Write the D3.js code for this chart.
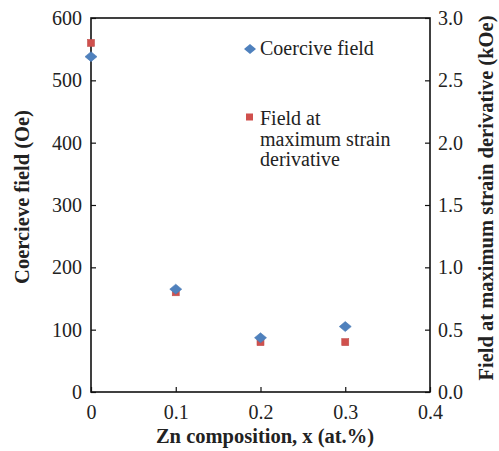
<!DOCTYPE html>
<html><head><meta charset="utf-8">
<script src="https://cdn.jsdelivr.net/npm/d3@7"></script>
<style>body{margin:0;background:#fff;}</style>
</head><body>
<svg id="c" width="499" height="451"></svg>
<script>
const composition = [0, 0.1, 0.2, 0.3];
const coerciveField = [538, 165, 87, 105];           // Oe, left axis
const fieldMaxStrain = [2.8, 0.8, 0.4, 0.4];         // kOe, right axis
const xTicks = [0, 0.1, 0.2, 0.3, 0.4];
const yLeftTicks = [0, 100, 200, 300, 400, 500, 600];
const yRightTicks = [0, 0.5, 1.0, 1.5, 2.0, 2.5, 3.0];

const FONT = "'Liberation Serif', Tinos, 'Times New Roman', serif";
const svg = d3.select("#c").style("font-family", FONT);
const L = 91, R = 430, T = 18, B = 392;
const x = d3.scaleLinear().domain([0, 0.4]).range([L, R]);
const yL = d3.scaleLinear().domain([0, 600]).range([B, T]);
const yR = d3.scaleLinear().domain([0, 3]).range([B, T]);
const fs = 20, fsb = 20.5;

// frame
svg.append("rect").attr("x", L).attr("y", T).attr("width", R - L).attr("height", B - T)
  .attr("fill", "none").attr("stroke", "#111").attr("stroke-width", 1.6);

const ax = g => { g.attr("font-family", null).attr("font-size", null);
  g.select(".domain").remove(); g.selectAll("line").attr("stroke", "#111").attr("stroke-width", 1.2);
  g.selectAll("text").style("font-family", FONT).style("font-size", fs + "px").attr("fill", "#222"); };

svg.append("g").attr("transform", `translate(0,${B})`)
  .call(d3.axisBottom(x).tickValues(xTicks).tickSizeInner(-5).tickPadding(13).tickFormat(d => d === 0 ? "0" : d3.format(".1f")(d)))
  .call(ax);
svg.append("g").attr("transform", `translate(${L},0)`)
  .call(d3.axisLeft(yL).tickValues(yLeftTicks).tickSizeInner(-5).tickPadding(9).tickFormat(d3.format("d")))
  .call(ax);
svg.append("g").attr("transform", `translate(${R},0)`)
  .call(d3.axisRight(yR).tickValues(yRightTicks).tickSizeInner(-5).tickPadding(8).tickFormat(d3.format(".1f")))
  .call(ax);

// markers
const diamond = (cx, cy) => `M${cx},${cy - 5}L${cx + 6},${cy}L${cx},${cy + 5}L${cx - 6},${cy}Z`;
svg.append("g").selectAll("rect").data(composition).join("rect")
  .attr("x", (d, i) => x(d) - 3.5).attr("y", (d, i) => yR(fieldMaxStrain[i]) - 3.5)
  .attr("width", 7).attr("height", 7).attr("fill", "#d0504d").attr("stroke", "#c0504d").attr("stroke-width", 0.6);
svg.append("g").selectAll("path").data(composition).join("path")
  .attr("d", (d, i) => diamond(x(d), yL(coerciveField[i])))
  .attr("fill", "#4f81bd").attr("stroke", "#4a7ab5").attr("stroke-width", 0.6);

const txt = (sel, size) => sel.style("font-family", FONT).style("font-size", (size || fs) + "px").attr("fill", "#222");

// legend
svg.append("path").attr("d", diamond(250, 49)).attr("fill", "#4f81bd");
svg.append("text").attr("x", 260).attr("y", 55).call(txt).text("Coercive field");
svg.append("rect").attr("x", 246).attr("y", 113.5).attr("width", 7).attr("height", 7).attr("fill", "#d0504d");
const lt = svg.append("text").attr("x", 260).attr("y", 125).call(txt);
["Field at", "maximum strain", "derivative"].forEach((s, i) => lt.append("tspan").attr("x", 260).attr("dy", i ? 20.5 : 0).text(s));

// axis titles
svg.append("text").attr("x", 265).attr("y", 443).attr("text-anchor", "middle").call(txt, fsb)
  .style("font-weight", "bold").text("Zn composition, x (at.%)");
svg.append("text").attr("transform", "translate(29,197) rotate(-90)").attr("text-anchor", "middle").call(txt, fsb)
  .style("font-weight", "bold").text("Coercieve field (Oe)");
svg.append("text").attr("transform", "translate(493,198) rotate(-90)").attr("text-anchor", "middle").call(txt, fsb)
  .style("font-weight", "bold").text("Field at maximum strain derivative (kOe)");
</script>
</body></html>
